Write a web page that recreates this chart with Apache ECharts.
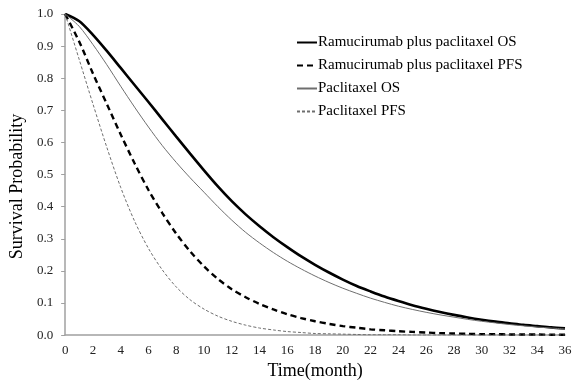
<!DOCTYPE html>
<html>
<head>
<meta charset="utf-8">
<script src="https://cdn.jsdelivr.net/npm/echarts@6/dist/echarts.min.js"></script>
<style>
  html, body { margin: 0; padding: 0; background: #fff; }
  #chart { width: 580px; height: 385px; }
</style>
</head>
<body>
<div id="chart"></div>
<script>
// months 0..36
const months = [0, 1, 2, 3, 4, 5, 6, 7, 8, 9, 10, 11, 12, 13, 14, 15, 16, 17, 18,
  19, 20, 21, 22, 23, 24, 25, 26, 27, 28, 29, 30, 31, 32, 33, 34, 35, 36]

const ramOS = [1, 0.978, 0.935, 0.885, 0.832, 0.779, 0.726, 0.672, 0.618, 0.565,
  0.513, 0.463, 0.417, 0.376, 0.339, 0.305, 0.274, 0.245, 0.219, 0.195, 0.173,
  0.153, 0.136, 0.12, 0.106, 0.093, 0.082, 0.072, 0.063, 0.055, 0.048, 0.042,
  0.037, 0.032, 0.028, 0.024, 0.021]
const ramPFS = [1, 0.915, 0.815, 0.72, 0.625, 0.535, 0.452, 0.38, 0.316, 0.261,
  0.214, 0.175, 0.143, 0.118, 0.097, 0.08, 0.065, 0.053, 0.043, 0.035, 0.028,
  0.023, 0.018, 0.015, 0.012, 0.01, 0.008, 0.006, 0.005, 0.004, 0.003, 0.003,
  0.002, 0.002, 0.002, 0.001, 0.001]
const pacOS = [1, 0.962, 0.905, 0.842, 0.775, 0.71, 0.648, 0.59, 0.538, 0.49,
  0.445, 0.4, 0.358, 0.32, 0.287, 0.257, 0.23, 0.206, 0.184, 0.164, 0.146, 0.13,
  0.115, 0.102, 0.09, 0.08, 0.071, 0.063, 0.056, 0.049, 0.043, 0.038, 0.033,
  0.029, 0.025, 0.022, 0.019]
const pacPFS = [1, 0.86, 0.72, 0.585, 0.46, 0.355, 0.27, 0.203, 0.15, 0.11, 0.081,
  0.059, 0.043, 0.031, 0.022, 0.016, 0.011, 0.008, 0.005, 0.004, 0.003, 0.002,
  0.001, 0.001, 0.001, 0, 0, 0, 0, 0, 0, 0, 0, 0, 0, 0, 0]

const seriesNames = ['Ramucirumab plus paclitaxel OS', 'Ramucirumab plus paclitaxel PFS',
  'Paclitaxel OS', 'Paclitaxel PFS']

const font = '"Liberation Serif", "Times New Roman", serif'

function pairs (ys) {
  return months.map((m, i) => [m, ys[i]])
}

function line (name, ys, color, width, dash) {
  return {
    name: name,
    type: 'line',
    data: pairs(ys),
    symbol: 'none',
    smooth: 0.3,
    lineStyle: { color: color, width: width, type: dash },
    itemStyle: { color: color },
    animation: false
  }
}

const chart = echarts.init(document.getElementById('chart'))
chart.setOption({
  backgroundColor: '#fff',
  grid: { left: 61, right: 15, top: 14, bottom: 45 },
  legend: {
    orient: 'vertical',
    left: 296,
    top: 35,
    padding: 0,
    itemGap: 8,
    itemWidth: 20,
    itemHeight: 15,
    data: seriesNames,
    itemStyle: { opacity: 0 },
    textStyle: { fontFamily: font, fontSize: 15, color: '#000', padding: [0, 0, 0, -4] }
  },
  xAxis: {
    type: 'value',
    min: 0,
    max: 36,
    interval: 2,
    name: 'Time(month)',
    nameLocation: 'middle',
    nameGap: 24,
    nameTextStyle: { fontFamily: font, fontSize: 18, color: '#000' },
    axisLine: { lineStyle: { color: '#a0a0a0', width: 1.5 } },
    axisTick: { show: false },
    axisLabel: { fontFamily: font, fontSize: 13, color: '#222', margin: 9 },
    splitLine: { show: false }
  },
  yAxis: {
    type: 'value',
    min: 0,
    max: 1,
    interval: 0.1,
    name: 'Survival Probability',
    nameLocation: 'middle',
    nameGap: 31,
    nameTextStyle: { fontFamily: font, fontSize: 18, color: '#000', padding: [0, 24, 0, 0] },
    axisLine: { show: true, lineStyle: { color: '#a0a0a0', width: 1.5 } },
    axisTick: { show: true, length: 4, lineStyle: { color: '#a0a0a0' } },
    axisLabel: {
      fontFamily: font, fontSize: 13, color: '#222', margin: 12,
      formatter: v => v.toFixed(1)
    },
    splitLine: { show: false }
  },
  series: [
    line(seriesNames[0], ramOS, '#000', 2.6, 'solid'),
    line(seriesNames[1], ramPFS, '#000', 2.4, [6, 4]),
    line(seriesNames[2], pacOS, '#6e6e6e', 1, 'solid'),
    line(seriesNames[3], pacPFS, '#6e6e6e', 1, [3, 2])
  ]
})
</script>
</body>
</html>
